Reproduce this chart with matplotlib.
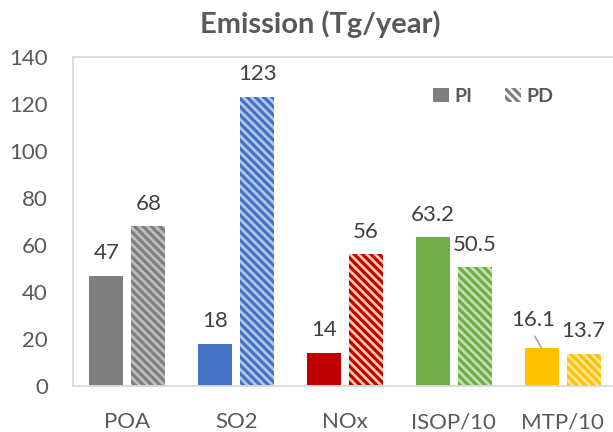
import numpy as np
import matplotlib
matplotlib.use("Agg")
import matplotlib.pyplot as plt
from matplotlib.patches import Patch

# ===== data =====
categories = ["POA", "SO2", "NOx", "ISOP/10", "MTP/10"]
pi_values = [47, 18, 14, 63.2, 16.1]
pd_values = [68, 123, 56, 50.5, 13.7]
pi_labels = ["47", "18", "14", "63.2", "16.1"]
pd_labels = ["68", "123", "56", "50.5", "13.7"]
y_ticks = [0, 20, 40, 60, 80, 100, 120, 140]

# ===== style =====
dark_colors = ["#7F7F7F", "#4472C4", "#C00000", "#70AD47", "#FFC000"]
light_colors = ["#BFBFBF", "#B4C7E7", "#F8CBAD", "#C5E0B4", "#FFE699"]
text_color = "#595959"
label_color = "#404040"
frame_color = "#D9D9D9"
stripe = "\\\\\\\\"

plt.rcParams.update({
    "font.family": ["Lato", "DejaVu Sans"],
    "hatch.linewidth": 2.3,
})

W, H = 613, 432
fig = plt.figure(figsize=(W / 100, H / 100), dpi=100)
ax = fig.add_axes([73 / W, 1 - 386 / H, 544 / W, 329 / H])

x = np.arange(len(categories))
off = 0.193
width = 0.3125

for i in range(len(categories)):
    ax.bar(x[i] - off, pi_values[i], width, color=dark_colors[i], linewidth=0)
    ax.bar(x[i] + off, pd_values[i], width, facecolor=light_colors[i],
           edgecolor=dark_colors[i], linewidth=0, hatch=stripe)

# value labels
for i in range(len(categories)):
    if categories[i] == "MTP/10":
        ax.annotate(pi_labels[i], xy=(x[i] - off, pi_values[i]),
                    xytext=(-6, 16), textcoords="offset points",
                    ha="center", va="baseline", fontsize=16, color=label_color,
                    arrowprops=dict(arrowstyle="-", color="#A6A6A6", lw=1.2,
                                    relpos=(0.45, 0), shrinkA=3, shrinkB=0))
    else:
        ax.annotate(pi_labels[i], xy=(x[i] - off, pi_values[i]),
                    xytext=(0, 12), textcoords="offset points",
                    ha="center", va="baseline", fontsize=16, color=label_color)
    ax.annotate(pd_labels[i], xy=(x[i] + off, pd_values[i]),
                xytext=(0, 12), textcoords="offset points",
                ha="center", va="baseline", fontsize=16, color=label_color)

ax.set_xlim(-0.5, len(categories) - 0.5)
ax.set_ylim(0, 140)
ax.set_yticks(y_ticks)
ax.set_xticks(x)
ax.set_xticklabels(categories)
ax.tick_params(axis="both", length=0, labelsize=16, labelcolor=text_color)
ax.tick_params(axis="y", pad=18)
ax.tick_params(axis="x", pad=19)

for side in ["top", "left", "bottom", "right"]:
    ax.spines[side].set_color(frame_color)
    ax.spines[side].set_linewidth(1.3)

# legend
handles = [
    Patch(facecolor=dark_colors[0], linewidth=0, label="PI"),
    Patch(facecolor="white", edgecolor=dark_colors[0], linewidth=0,
          hatch=stripe, label="PD"),
]
fig.legend(handles=handles, loc="center left",
           bbox_to_anchor=(433 / W, 1 - 96 / H), ncol=2, frameon=False,
           borderpad=0, borderaxespad=0,
           prop={"family": ["Lato", "DejaVu Sans"], "weight": "bold", "size": 14},
           labelcolor=text_color, handlelength=0.8, handleheight=0.75,
           handletextpad=0.3, columnspacing=1.7)

fig.text(320 / W, 1 - 33 / H, "Emission (Tg/year)", ha="center", va="baseline",
         fontsize=21, fontweight="bold", color=text_color)

fig.savefig("out.png", dpi=100)
